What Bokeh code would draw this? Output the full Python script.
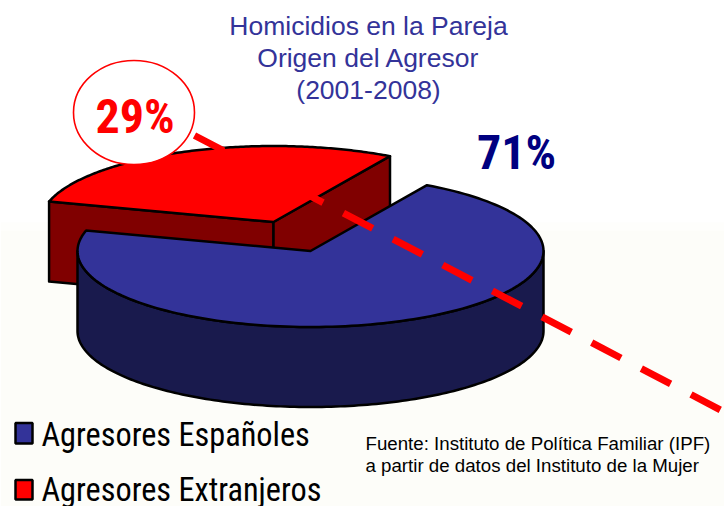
import numpy as np
from bokeh.plotting import figure
from bokeh.models import Range1d
from bokeh.core.properties import value
from bokeh.embed import file_html
from bokeh.resources import INLINE

categories = ["Agresores Españoles", "Agresores Extranjeros"]
shares = [71, 29]
share_labels = ["71%", "29%"]
title_lines = ["Homicidios en la Pareja", "Origen del Agresor", "(2001-2008)"]
source_lines = ["Fuente: Instituto de Política Familiar (IPF)",
                "a partir de datos del Instituto de la Mujer"]

BLUE, BLUE_D = "#333399", "#191A4D"
RED, RED_D = "#FF0000", "#800000"
SANS, NARROW = "Liberation Sans", "Roboto Condensed"
CX, CY, RX, RY, DEPTH = 310, 250.5, 233, 76, 80
EXPLODE = (-37, -29)
START = 60.0


def arc(a0, a1, dx=0, dy=0, n=160):
    t = np.radians(np.linspace(a0, a1, n))
    return CX + dx + RX * np.cos(t), CY + dy - RY * np.sin(t)


red_span = 360 * shares[1] / sum(shares)
red_a0, red_a1 = START, START + red_span

p = figure(width=724, height=506, output_backend="svg", toolbar_location=None,
           x_range=Range1d(0, 724), y_range=Range1d(506, 0),
           x_axis_type=None, y_axis_type=None, min_border=0,
           outline_line_color=None, background_fill_color="white")
p.grid.visible = False

p.quad(left=0, right=724, top=222, bottom=230, fill_color="#FEFEFC", line_color=None)
p.quad(left=0, right=724, top=230, bottom=506, fill_color="#FDFDF9", line_color=None)

outline = dict(line_color="black", line_width=2.5, line_join="round")
ex, ey = EXPLODE

ax, ay = arc(red_a0, red_a1, ex, ey)
apex = (CX + ex, CY + ey)
for x0, y0 in [(ax[-1], ay[-1]), (ax[0], ay[0])]:
    p.patch([x0, apex[0], apex[0], x0], [y0, apex[1], apex[1] + DEPTH, y0 + DEPTH],
            fill_color=RED_D, **outline)
p.patch(list(ax) + [apex[0]], list(ay) + [apex[1]], fill_color=RED, **outline)

sx, sy = arc(180, 360)
p.patch(list(sx) + list(sx[::-1]), list(sy) + list(sy[::-1] + DEPTH),
        fill_color=BLUE_D, **outline)
tx, ty = arc(red_a1, START + 360)
p.patch(list(tx) + [CX], list(ty) + [CY], fill_color=BLUE, **outline)

p.ellipse(x=[133.5], y=[112], width=121, height=104, fill_color="white",
          line_color=RED, line_width=1.6)
p.line([194, 724], [135, 411.5], line_color=RED, line_width=7,
       line_dash="33 23", line_cap="butt")

p.text(x=[368] * 3, y=[25, 57, 89], text=title_lines, text_font=value(SANS),
       text_font_size="26.5px", text_color=BLUE, text_align="center",
       text_baseline="middle")
p.text(x=[134.5], y=[116], text=[share_labels[1]], text_font=value(NARROW),
       text_font_size="48px", text_font_style="bold", text_color=RED,
       text_align="center", text_baseline="middle")
p.text(x=[516], y=[151.5], text=[share_labels[0]], text_font=value(NARROW),
       text_font_size="48px", text_font_style="bold", text_color="#000080",
       text_align="center", text_baseline="middle")

p.quad(left=[15, 15], right=[32, 32], top=[422.5, 479.5], bottom=[443, 499],
       fill_color=[BLUE, RED], line_color="black", line_width=2.5)
p.text(x=[41, 41], y=[434, 489], text=categories, text_font=value(NARROW),
       text_font_size="32.3px", text_color="black", text_align="left",
       text_baseline="alphabetic")

p.text(x=[365, 365], y=[443, 465], text=source_lines, text_font=value(SANS),
       text_font_size="18.7px", text_color="black", text_align="left",
       text_baseline="alphabetic")

open("out.html", "w").write(file_html(p, INLINE))
